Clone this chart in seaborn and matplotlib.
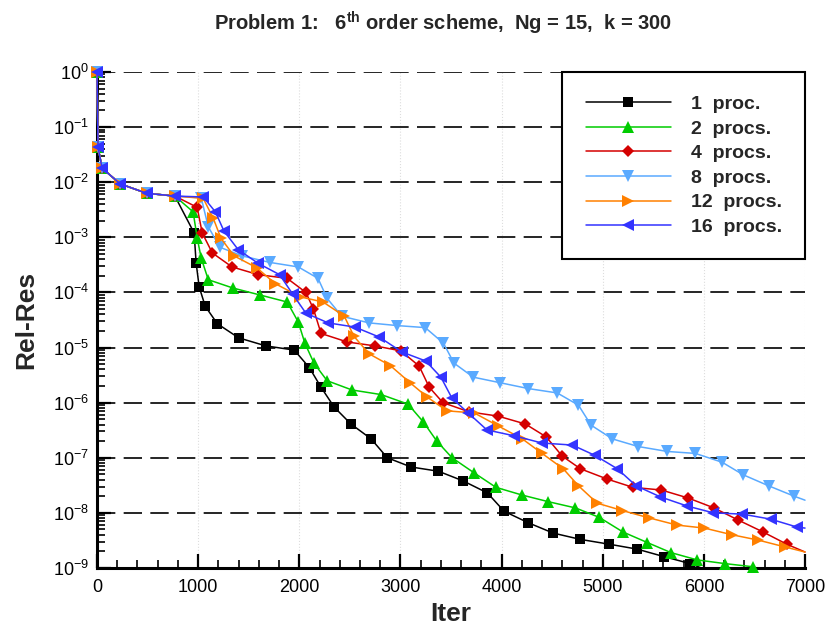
import matplotlib
matplotlib.use('Agg')
import matplotlib.pyplot as plt
from matplotlib.ticker import FixedLocator, MultipleLocator, NullFormatter
import seaborn as sns

# shared start of every history
start_it = [0, 10, 50, 230, 490, 770]
start_res = [1.0, 0.043, 0.018, 0.0093, 0.0063, 0.0056]

it_1 = start_it + [960, 980, 1010, 1070, 1190, 1400, 1670, 1950, 2100, 2215, 2345, 2510,
                   2710, 2870, 3105, 3375, 3620, 3860, 4025, 4265, 4510, 4780, 5065,
                   5340, 5610, 5865, 6150]
res_1 = start_res + [1.2e-3, 3.4e-4, 1.26e-4, 5.6e-5, 2.7e-5, 1.5e-5, 1.07e-5, 9.0e-6, 4.3e-6,
                     1.9e-6, 8.3e-7, 4.1e-7, 2.2e-7, 1.0e-7, 6.8e-8, 5.7e-8, 3.8e-8, 2.3e-8,
                     1.07e-8, 6.6e-9, 4.3e-9, 3.3e-9, 2.7e-9, 2.2e-9, 1.6e-9, 1.2e-9, 7.5e-10]

it_2 = start_it + [950, 990, 1030, 1100, 1345, 1610, 1880, 1990, 2055, 2145, 2275, 2520,
                   2810, 3075, 3225, 3360, 3510, 3730, 3945, 4205, 4460, 4730, 4965, 5200,
                   5440, 5675, 5935, 6210, 6490]
res_2 = start_res + [2.9e-3, 9.8e-4, 4.2e-4, 1.7e-4, 1.2e-4, 9.0e-5, 6.7e-5, 2.9e-5, 1.2e-5,
                     5.2e-6, 2.5e-6, 1.7e-6, 1.4e-6, 9.4e-7, 4.5e-7, 2.0e-7, 1.0e-7, 5.3e-8,
                     2.9e-8, 2.1e-8, 1.6e-8, 1.23e-8, 8.3e-9, 4.5e-9, 2.9e-9, 1.9e-9, 1.4e-9,
                     1.2e-9, 1.05e-9]

it_4 = start_it + [990, 1040, 1140, 1335, 1595, 1880, 2065, 2140, 2215, 2475, 2750, 3005,
                   3185, 3285, 3420, 3680, 3965, 4235, 4440, 4600, 4780, 5045, 5300, 5580,
                   5845, 6100, 6340, 6585, 6820, 7000]
res_4 = start_res + [3.5e-3, 1.2e-3, 5.2e-4, 2.9e-4, 2.1e-4, 1.8e-4, 1.0e-4, 5.0e-5, 1.8e-5,
                     1.26e-5, 1.07e-5, 8.7e-6, 4.6e-6, 1.9e-6, 1.0e-6, 6.8e-7, 5.7e-7, 4.1e-7,
                     2.4e-7, 1.07e-7, 6.3e-8, 4.1e-8, 2.9e-8, 2.6e-8, 1.86e-8, 1.23e-8,
                     7.4e-9, 4.5e-9, 2.7e-9, 1.95e-9]

it_8 = start_it + [1030, 1100, 1215, 1435, 1710, 1990, 2185, 2275, 2420, 2690, 2970, 3245,
                   3425, 3530, 3720, 3985, 4265, 4550, 4760, 4885, 5095, 5350, 5640, 5915,
                   6180, 6390, 6640, 6895, 7000]
res_8 = start_res + [5.2e-3, 1.55e-3, 6.6e-4, 4.6e-4, 3.5e-4, 2.9e-4, 1.8e-4, 7.8e-5, 3.7e-5,
                     2.8e-5, 2.5e-5, 2.3e-5, 1.2e-5, 5.2e-6, 2.9e-6, 2.3e-6, 1.8e-6, 1.5e-6,
                     9.0e-7, 3.9e-7, 2.2e-7, 1.6e-7, 1.3e-7, 1.2e-7, 8.3e-8, 4.9e-8, 3.1e-8,
                     2.0e-8, 1.7e-8]

it_12 = start_it + [1050, 1150, 1225, 1355, 1580, 1760, 2010, 2235, 2445, 2540, 2690, 2900,
                    3095, 3265, 3460, 3730, 3965, 4205, 4400, 4610, 4760, 4945, 5195, 5460,
                    5735, 6005, 6280, 6540, 6805, 7000]
res_12 = start_res + [5.1e-3, 2.2e-3, 9.6e-4, 4.6e-4, 2.8e-4, 1.45e-4, 8.3e-5, 6.7e-5, 3.7e-5,
                      1.6e-5, 7.7e-6, 4.7e-6, 2.3e-6, 1.26e-6, 7.1e-7, 6.5e-7, 3.8e-7, 2.2e-7,
                      1.2e-7, 6.3e-8, 3.1e-8, 1.5e-8, 1.1e-8, 8.1e-9, 6.0e-9, 5.3e-9, 4.0e-9,
                      3.2e-9, 2.4e-9, 1.95e-9]

it_16 = start_it + [1050, 1170, 1255, 1395, 1590, 1805, 1935, 2065, 2285, 2550, 2790, 3015,
                    3250, 3400, 3510, 3670, 3855, 4125, 4400, 4700, 4925, 5145, 5330, 5570,
                    5835, 6095, 6380, 6660, 6925, 7000]
res_16 = start_res + [5.4e-3, 2.9e-3, 1.3e-3, 6.0e-4, 3.4e-4, 2.1e-4, 9.3e-5, 4.2e-5, 2.8e-5,
                      2.35e-5, 1.55e-5, 8.3e-6, 5.7e-6, 2.9e-6, 1.2e-6, 6.5e-7, 3.2e-7, 2.5e-7,
                      1.85e-7, 1.7e-7, 1.1e-7, 6.3e-8, 3.1e-8, 1.95e-8, 1.33e-8, 1.0e-8,
                      9.5e-9, 7.7e-9, 5.5e-9, 5.3e-9]

labels = ['1  proc.', '2  procs.', '4  procs.', '8  procs.', '12  procs.', '16  procs.']
colors = ['#000000', '#00cc00', '#d40000', '#5aaaff', '#ff8000', '#3333ff']
markers = ['s', '^', 'D', 'v', '>', '<']
msizes = [6.5, 9, 6, 9, 9, 9]
# last point of some histories is only the line end at 7000, no symbol there
ends_in_line = [False, False, True, True, True, True]
clip = [True, False, False, False, False, False]

series = [(it_1, res_1), (it_2, res_2), (it_4, res_4),
          (it_8, res_8), (it_12, res_12), (it_16, res_16)]

sns.set_theme(style='ticks')
plt.rcParams['font.family'] = ['Liberation Sans', 'DejaVu Sans']
plt.rcParams['mathtext.default'] = 'regular'

fig = plt.figure(figsize=(8.3, 6.33), dpi=100)
ax = fig.add_axes([0.1169, 0.1027, 0.853, 0.7836])

handles = []
for (x, y), lab, c, m, ms, tail, cl in zip(series, labels, colors, markers, msizes,
                                           ends_in_line, clip):
    mev = slice(0, len(x) - 1) if tail else None
    sns.lineplot(x=x, y=y, ax=ax, color=c, marker=m, markersize=ms, markeredgewidth=0,
                 linewidth=1.1, estimator=None, sort=False, markevery=mev, label=lab,
                 legend=False, clip_on=cl, zorder=3)
    handles.append(ax.lines[-1])

ax.set_yscale('log')
ax.set_xlim(0, 7000)
ax.set_ylim(1e-9, 1e0)

# dashed decade lines, faint dotted verticals
decades = [10.0 ** k for k in range(-9, 1)]
for d in decades[1:]:
    ax.axhline(d, color='black', linewidth=1.2, dashes=(11, 5), zorder=0.5)
for xv in range(1000, 7001, 1000):
    ax.axvline(xv, color='#dddddd', linewidth=0.8, linestyle=':', zorder=0.4)

ax.xaxis.set_major_locator(MultipleLocator(1000))
ax.xaxis.set_minor_locator(MultipleLocator(200))
ax.yaxis.set_major_locator(FixedLocator(decades))
ax.yaxis.set_minor_locator(FixedLocator([m * d for d in decades[:-1] for m in range(2, 10)]))
ax.yaxis.set_minor_formatter(NullFormatter())
ax.tick_params(which='major', direction='in', length=10, width=1.6, labelsize=13,
               colors='black', pad=8)
ax.tick_params(which='minor', direction='in', length=6, width=1.2, color='black')
ax.tick_params(axis='y', which='major', pad=6)
ax.tick_params(axis='x', which='both', top=False, bottom=True)
ax.tick_params(axis='y', which='both', right=False, left=True)

for side in ['top', 'right']:
    ax.spines[side].set_visible(False)
for side in ['left', 'bottom']:
    ax.spines[side].set_linewidth(2.2)
    ax.spines[side].set_color('black')

ax.set_xlabel('Iter', fontsize=19, fontweight='bold', labelpad=4)
ax.set_ylabel('Rel-Res', fontsize=19, fontweight='bold', labelpad=10)
fig.suptitle('Problem 1:   6$^{th}$ order scheme,  Ng = 15,  k = 300',
             x=0.534, y=0.984, fontsize=14.5, fontweight='bold')

leg = ax.legend(handles=handles, labels=labels, loc='upper right', bbox_to_anchor=(1.0, 1.0),
                frameon=True, fancybox=False, framealpha=1.0, numpoints=1, handlelength=4.4,
                handletextpad=1.0, borderpad=1.2, labelspacing=0.36, borderaxespad=0,
                prop={'weight': 'bold', 'size': 14})
leg.get_frame().set_edgecolor('black')
leg.get_frame().set_linewidth(1.5)
leg.set_zorder(5)

fig.savefig('out.png', dpi=100, facecolor='white')
